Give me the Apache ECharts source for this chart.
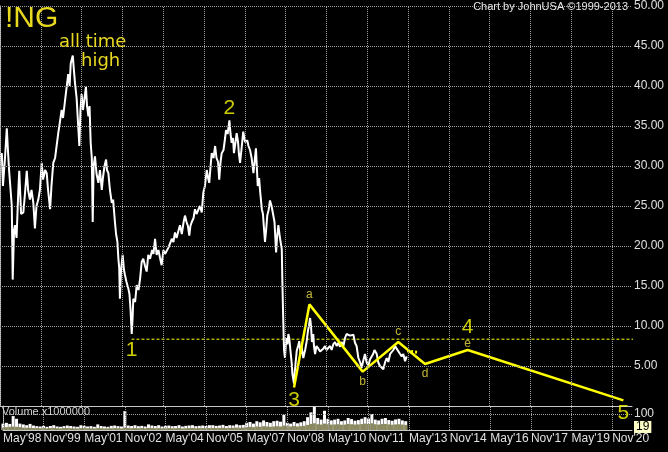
<!DOCTYPE html>
<html>
<head>
<meta charset="utf-8">
<script src="https://cdn.jsdelivr.net/npm/echarts@6/dist/echarts.min.js"></script>
<style>
  html, body { margin: 0; padding: 0; background: #000; }
  #chart { width: 668px; height: 452px; }
</style>
</head>
<body>
<div id="chart"></div>
<script>
// months counted from May'98
var xTickLabels = ["May'98", "Nov'99", "May'01", "Nov'02", "May'04", "Nov'05", "May'07", "Nov'08",
  "May'10", "Nov'11", "May'13", "Nov'14", "May'16", "Nov'17", "May'19", "Nov'20"];
var xTickStep = 18;
var priceTicks = [5, 10, 15, 20, 25, 30, 35, 40, 45, 50];
var volumeTicks = [100];

var priceMonths = [
  0, 0.8, 1.3, 2.2, 3.0, 3.5, 4.0, 5.2, 5.6, 6.2, 6.6, 7.3, 8.1, 8.5, 9.3, 10.3, 11.0, 11.8, 12.4, 13.2,
  13.9, 14.7, 15.4, 16.1, 16.9, 17.6, 18.4, 19.0, 19.9, 20.6, 21.2, 22.1, 22.7, 23.5, 24.3, 25.7, 26.5, 27.2, 27.8, 28.7,
  29.3, 30.1, 30.7, 31.2, 32.1, 32.6, 33.1, 33.8, 34.5, 35.0, 35.5, 36.0, 36.6, 37.3, 37.9, 38.4, 39.0, 39.5, 40.0, 40.5,
  40.9, 41.3, 41.9, 42.6, 43.4, 44.1, 44.9, 45.4, 46.1, 46.8, 47.2, 47.8, 48.5, 49.3, 49.9, 50.7, 51.2, 51.8, 52.2, 52.6,
  52.9, 53.4, 54.1, 54.7, 55.1, 55.8, 56.6, 57.1, 57.6, 58.1, 58.5, 58.8, 59.6, 60.3, 61.1, 61.8, 62.5, 63.2, 64.0, 64.7,
  65.4, 66.2, 67.1, 67.7, 68.4, 69.1, 69.9, 70.6, 71.3, 72.1, 72.8, 73.5, 74.3, 75.0, 75.8, 76.5, 77.2, 77.9, 78.8, 79.4,
  80.2, 81.0, 81.6, 82.3, 82.9, 83.5, 84.0, 84.6, 85.4, 86.0, 86.7, 87.5, 88.2, 89.0, 89.7, 90.4, 91.2, 91.8, 92.3, 92.9,
  93.4, 94.2, 94.9, 95.5, 96.2, 96.7, 97.3, 97.8, 98.6, 99.3, 99.7, 100.4, 101.2, 101.7, 102.2, 102.8, 103.2, 103.9, 104.4, 105.0,
  105.4, 105.9, 106.5, 107.3, 108.1, 109.1, 109.6, 110.3, 111.0, 111.8, 112.3, 112.9, 113.7, 114.3, 114.7, 115.5, 116.0, 116.5, 116.9, 117.4,
  117.9, 118.5, 119.1, 119.8, 120.6, 121.1, 121.8, 122.2, 122.8, 123.5, 124.3, 124.6, 125.0, 125.3, 125.7, 126.3, 126.8, 127.2, 127.6, 128.1,
  128.7, 129.0, 129.4, 129.7, 130.1, 130.9, 131.5, 132.0, 132.6, 133.0, 133.8, 134.6, 135.3, 135.9, 136.3, 136.8, 137.2, 137.6, 138.2, 138.5,
  139.0, 139.6, 140.4, 141.2, 141.9, 142.7, 143.4, 144.0, 144.8, 145.6, 146.3, 147.0, 147.8, 148.5, 149.3, 150.0, 150.7, 151.5, 152.2, 152.9,
  153.7, 154.4, 155.2, 155.9, 156.6, 157.3, 158.1, 158.8, 159.6, 160.1, 161.0, 161.7, 162.5, 163.2, 164.0, 164.6, 165.2, 166.2, 166.8, 167.6,
  168.3, 169.1, 169.9, 170.6, 171.3, 172.1, 172.8, 173.5, 174.3, 174.9, 175.7, 176.5, 177.2, 177.9, 178.7, 179.4
];

var priceValues = [
  31.0, 31.6, 27.5, 31.0, 34.7, 32.0, 29.5, 25.0, 15.8, 22.0, 22.6, 21.0, 27.0, 29.4, 24.0, 24.2, 26.5, 29.4, 27.0, 25.8,
  27.0, 25.4, 22.2, 25.0, 25.8, 27.0, 30.4, 28.3, 29.5, 29.1, 27.0, 24.6, 27.5, 30.4, 31.0, 34.1, 34.0, 37.0, 36.0, 38.2,
  38.0, 41.5, 40.0, 42.8, 43.8, 42.0, 40.3, 38.5, 35.0, 32.5, 37.0, 39.0, 37.0, 38.5, 39.9, 37.5, 36.2, 37.5, 32.9, 31.0,
  23.0, 30.0, 31.2, 29.0, 27.9, 29.5, 27.0, 28.5, 30.0, 30.8, 29.5, 29.1, 27.0, 25.4, 25.8, 23.0, 21.5, 20.5, 18.5, 17.2,
  13.4, 17.0, 18.9, 17.0, 16.4, 15.5, 14.7, 14.0, 12.0, 9.0, 11.0, 13.4, 13.0, 15.1, 14.5, 15.9, 18.0, 18.4, 17.5, 16.8,
  18.9, 18.4, 19.5, 19.0, 20.9, 18.9, 19.5, 18.5, 17.6, 19.5, 19.0, 18.9, 19.8, 20.0, 20.9, 20.5, 21.7, 21.0, 22.0, 22.6,
  21.5, 23.0, 23.8, 23.0, 22.5, 21.3, 22.5, 23.0, 23.5, 24.6, 24.0, 23.8, 25.0, 24.2, 26.7, 27.5, 29.5, 28.5, 27.9, 30.0,
  31.6, 31.0, 32.5, 31.0, 30.5, 28.3, 30.5, 31.6, 32.0, 33.5, 34.5, 34.0, 35.7, 34.0, 32.9, 33.5, 31.6, 33.0, 34.1, 33.0,
  31.5, 30.4, 32.0, 34.3, 33.0, 33.2, 32.5, 32.0, 31.0, 29.1, 30.5, 32.2, 27.5, 28.5, 27.0, 24.6, 24.0, 22.0, 20.5, 22.0,
  23.8, 24.5, 25.7, 25.0, 25.0, 23.0, 19.2, 21.0, 22.6, 21.0, 19.6, 15.0, 10.2, 7.0, 6.0, 8.5, 7.7, 9.0, 8.5, 7.0,
  5.3, 4.0, 4.0, 2.8, 4.5, 6.9, 7.5, 8.1, 6.5, 7.5, 6.0, 7.0, 8.1, 9.5, 10.0, 11.0, 10.0, 8.0, 9.0, 7.5,
  6.5, 7.5, 7.2, 6.8, 6.6, 7.2, 7.5, 7.0, 6.9, 7.5, 7.0, 7.7, 8.0, 7.5, 7.9, 7.4, 8.0, 7.5, 8.5, 9.0,
  9.1, 8.8, 8.7, 8.9, 7.9, 7.5, 6.0, 5.5, 4.8, 5.5, 6.5, 5.5, 5.0, 5.8, 5.9, 6.5, 7.0, 6.5, 5.5, 5.0,
  4.9, 4.6, 5.5, 6.0, 5.5, 6.5, 6.6, 7.0, 7.5, 7.2, 7.1, 6.5, 6.2, 6.5, 5.6, 6.2
];

// volume (x1000000), one bar every 1.5 months
var volumeStep = 1.5;
var volumeValues = [
  40, 45, 38, 87, 70, 40, 35, 30, 38, 28,
  24, 22, 26, 20, 25, 30, 22, 20, 24, 28, 25, 22, 20, 30, 26, 22, 24, 20, 35, 25, 22, 20, 26, 28, 24, 22,
  118,
  28, 25, 30, 24, 26, 22, 35, 28, 25, 30, 22, 26, 28, 24, 25, 30, 22, 26, 28, 30, 24, 26, 28, 25, 30,
  30, 26, 28, 32, 25, 30, 28, 35, 30, 32,
  45, 50, 40, 55, 48, 60, 50, 45, 55, 58, 52, 95,
  45, 40, 50, 42, 48, 55,
  80, 110, 145, 75,
  65, 120, 70, 60,
  65, 70, 55, 60, 75, 68, 58, 62, 70, 80, 72, 100, 65, 60, 70, 75, 62, 58, 66, 70, 60, 55
];
var volumeAvg = [
  15, 18, 20, 22, 20, 18, 15, 14, 14, 12,
  12, 11, 12, 10, 12, 13, 11, 10, 12, 12, 11, 10, 10, 12, 12, 11, 10, 10, 12, 11, 10, 10, 11, 12, 11, 10,
  14,
  12, 11, 12, 11, 12, 10, 13, 12, 11, 12, 10, 11, 12, 11, 11, 12, 10, 11, 12, 13, 11, 12, 12, 11, 13,
  13, 12, 13, 14, 12, 13, 14, 15, 14, 15,
  18, 20, 18, 22, 20, 24, 22, 20, 22, 24, 22, 28,
  24, 22, 25, 22, 24, 26,
  32, 38, 42, 36,
  34, 40, 36, 34,
  35, 36, 33, 34, 38, 36, 34, 35, 37, 40, 38, 42, 36, 34, 37, 38, 35, 33, 35, 36, 34, 32
];
var lastVolume = 19;

// elliott wave count
var waveMonths = [129.7, 136.5, 160.0, 175.7, 187.5, 206.3, 275.0];
var waveValues = [2.3, 12.7, 4.3, 8.0, 5.25, 7.0, 0.7];
var waveNames = ['3', 'a', 'b', 'c', 'd', 'e', '5'];
var supportLevel = 8.35;
var supportFrom = 58;
var supportTo = 286.8;

var labelFont = 'Liberation Sans Narrow, Liberation Sans, Arial, sans-serif';
var gridColor = '#a0a0a0';
var frameColor = '#c8c8c8';
var yellow = '#ffff00';

var myChart = echarts.init(document.getElementById('chart'), null, { renderer: 'canvas' });

var xMax = 278.8;
function xLabel(v) {
  var i = Math.round(v / xTickStep);
  return Math.abs(v - i * xTickStep) < 0.01 ? (xTickLabels[i] || '') : '';
}

var bigLabel = { show: true, color: yellow, fontSize: 21, fontFamily: 'Liberation Sans, Arial, sans-serif' };
var smallLabel = { show: true, color: '#f0e040', fontSize: 12, fontFamily: 'Liberation Sans, Arial, sans-serif' };

var waveLabelData = waveMonths.map(function (m, i) {
  var big = /[0-9]/.test(waveNames[i]);
  var below = ['3', 'b', 'd', '5'].indexOf(waveNames[i]) >= 0;
  var style = big ? bigLabel : smallLabel;
  return {
    value: [m, waveValues[i]],
    label: Object.assign({}, style, {
      formatter: waveNames[i],
      position: below ? 'bottom' : 'top',
      distance: big ? 2 : (waveNames[i] === 'e' ? 0 : 4)
    })
  };
});
// 1 and 2 sit on the price extremes, 4 over point e
var iLow = priceValues.indexOf(9.0);
var iHigh = priceValues.indexOf(35.7);
waveLabelData.push({ value: [priceMonths[iLow], priceValues[iLow]], label: Object.assign({}, bigLabel, { formatter: '1', position: 'bottom', distance: 6 }) });
waveLabelData.push({ value: [priceMonths[iHigh], priceValues[iHigh]], label: Object.assign({}, bigLabel, { formatter: '2', position: 'top', distance: 2 }) });
waveLabelData.push({ value: [waveMonths[5], waveValues[5]], label: Object.assign({}, bigLabel, { formatter: '4', position: 'top', distance: 12 }) });

// dotted grid drawn as mark lines on the axis tick values
var gridLineStyle = { color: gridColor, width: 1, type: 'dotted' };
var xGridLines = xTickLabels.map(function (t, i) { return { xAxis: i * xTickStep }; });
var priceGridLines = xGridLines.concat(priceTicks.map(function (v) { return { yAxis: v }; }));
var volumeGridLines = xGridLines.concat(volumeTicks.map(function (v) { return { yAxis: v }; }));

var option = {
  backgroundColor: '#000',
  animation: false,
  title: [
    { text: 'Chart by JohnUSA ©1999-2013', right: 40, top: 1, padding: 0,
      textStyle: { color: '#e8e8e8', fontSize: 11, fontWeight: 'normal', fontFamily: 'Liberation Sans, Arial, sans-serif' } },
    { text: '!NG', left: 5, top: 4, padding: 0,
      textStyle: { color: '#e8d820', fontSize: 30, fontWeight: 'normal', fontFamily: labelFont } },
    { text: 'all time', left: 59, top: 33, padding: 0,
      textStyle: { color: '#e8d820', fontSize: 18, fontWeight: 'normal', fontFamily: 'DejaVu Sans, sans-serif' } },
    { text: 'high', left: 81, top: 52, padding: 0,
      textStyle: { color: '#e8d820', fontSize: 18, fontWeight: 'normal', fontFamily: 'DejaVu Sans, sans-serif' } },
    { text: 'Volume x1000000', left: 2, top: 406, padding: 0,
      textStyle: { color: '#d0d0d0', fontSize: 11, fontWeight: 'normal', fontFamily: 'Liberation Sans, Arial, sans-serif' } }
  ],
  grid: [
    { left: 0, right: 36, top: 2, height: 404 },
    { left: 0, right: 36, top: 406, height: 24 }
  ],
  xAxis: [
    {
      type: 'value', gridIndex: 0, min: 0, max: xMax, interval: xTickStep,
      axisLine: { show: true, onZero: false, lineStyle: { color: frameColor } },
      axisTick: { show: false }, axisLabel: { show: false },
      splitLine: { show: false }
    },
    {
      type: 'value', gridIndex: 1, min: 0, max: xMax, interval: xTickStep,
      axisLine: { show: true, onZero: false, lineStyle: { color: frameColor } },
      axisTick: { show: false },
      axisLabel: {
        color: '#e0e0e0', fontSize: 12, fontFamily: labelFont, align: 'left', margin: 3,
        showMaxLabel: false, formatter: xLabel
      },
      splitLine: { show: false }
    }
  ],
  yAxis: [
    {
      type: 'value', gridIndex: 0, position: 'right', min: 0, max: 50, interval: 5,
      axisLine: { show: true, lineStyle: { color: frameColor } },
      axisTick: { show: false },
      axisLabel: {
        color: '#e0e0e0', fontSize: 12, fontFamily: labelFont, margin: 2, showMinLabel: false,
        formatter: function (v) { return v.toFixed(2); }
      },
      splitLine: { show: false }
    },
    {
      type: 'value', gridIndex: 1, position: 'right', min: 0, max: 150, interval: 100,
      axisLine: { show: true, lineStyle: { color: frameColor } },
      axisTick: { show: false },
      axisLabel: { color: '#e0e0e0', fontSize: 12, fontFamily: labelFont, margin: 2, showMinLabel: false, showMaxLabel: false },
      splitLine: { show: false }
    }
  ],
  series: [
    {
      name: 'support', type: 'line', xAxisIndex: 0, yAxisIndex: 0, clip: false, z: 1,
      data: [[supportFrom, supportLevel], [supportTo, supportLevel]],
      symbol: 'none', lineStyle: { color: yellow, width: 1, type: [3, 2] },
      markLine: {
        silent: true, symbol: 'none', animation: false,
        label: { show: false }, lineStyle: gridLineStyle,
        data: priceGridLines
      }
    },
    {
      name: 'price', type: 'line', xAxisIndex: 0, yAxisIndex: 0, z: 3,
      data: priceMonths.map(function (m, i) { return [m, priceValues[i]]; }),
      symbol: 'none', lineStyle: { color: '#fff', width: 2 }
    },
    {
      name: 'wave', type: 'line', xAxisIndex: 0, yAxisIndex: 0, clip: false, z: 4,
      data: waveMonths.map(function (m, i) { return [m, waveValues[i]]; }),
      symbol: 'none', lineStyle: { color: yellow, width: 2.5 }
    },
    {
      name: 'projection', type: 'line', xAxisIndex: 0, yAxisIndex: 0, z: 4,
      data: [[179.6, 6.9], [184.4, 6.7]],
      symbol: 'none', lineStyle: { color: yellow, width: 3, type: [2, 2] }
    },
    {
      name: 'labels', type: 'scatter', xAxisIndex: 0, yAxisIndex: 0, clip: false,
      symbolSize: 0, data: waveLabelData, z: 5
    },
    {
      name: 'volume', type: 'bar', xAxisIndex: 1, yAxisIndex: 1, barWidth: 3, barGap: '-100%',
      data: volumeValues.map(function (v, i) { return [i * volumeStep, v]; }),
      itemStyle: { color: '#fff' },
      markLine: {
        silent: true, symbol: 'none', animation: false,
        label: { show: false }, lineStyle: gridLineStyle,
        data: volumeGridLines
      }
    },
    {
      name: 'volume avg', type: 'bar', xAxisIndex: 1, yAxisIndex: 1, barWidth: 3, barGap: '-100%',
      data: volumeAvg.map(function (v, i) { return [i * volumeStep, v]; }),
      itemStyle: { color: '#8a8a5c' },
      markLine: {
        silent: true, symbol: 'none', lineStyle: { color: 'transparent', width: 0 },
        label: { show: true, position: 'end', formatter: String(lastVolume), color: '#000', backgroundColor: '#ffffc8',
          fontSize: 12, fontFamily: labelFont, padding: [0, 2], distance: 2 },
        data: [{ yAxis: lastVolume }]
      }
    }
  ]
};

myChart.setOption(option);
</script>
</body>
</html>
